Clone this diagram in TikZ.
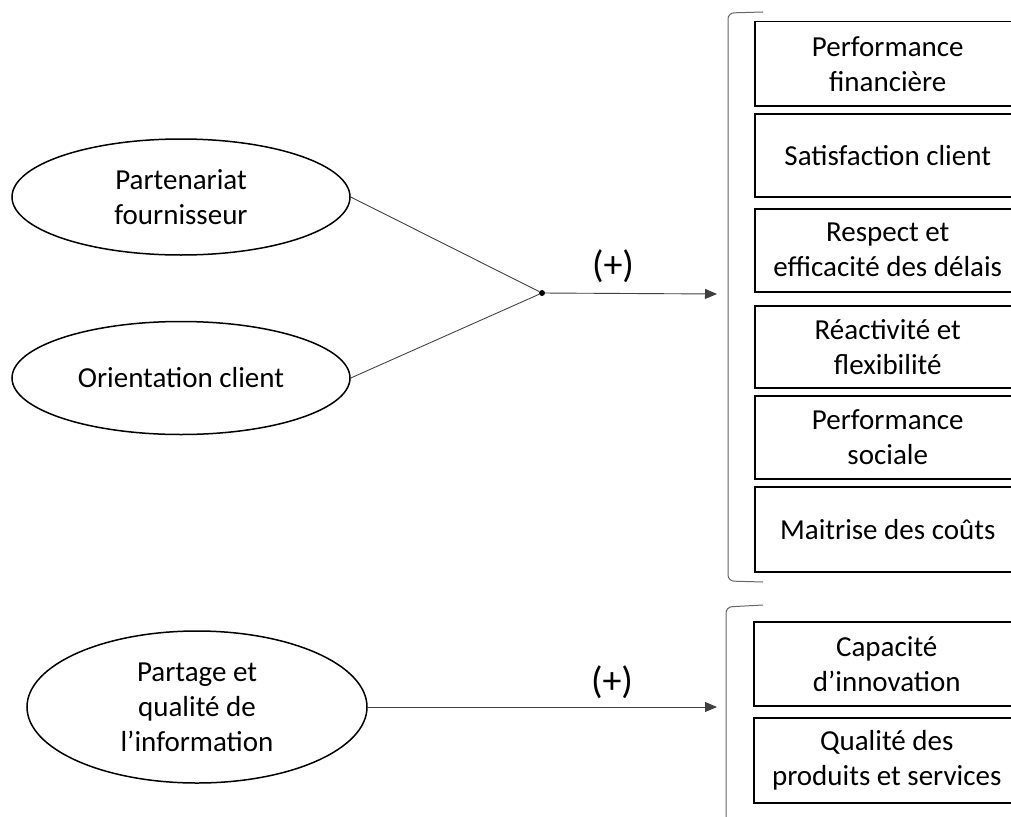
\documentclass[tikz,border=0pt]{standalone}
\usepackage{fontspec}
\setmainfont{Carlito}
\usetikzlibrary{arrows.meta,shapes.geometric}
\begin{document}
\begin{tikzpicture}[x=1pt,y=-1pt,
  every node/.style={font=\fontsize{29}{35}\selectfont},
  ell/.style={draw, line width=1.5pt, ellipse, inner sep=0pt, align=center, minimum width=338pt, minimum height=116pt},
  box/.style={draw, line width=1.5pt, rectangle, anchor=north west, inner sep=0pt, align=center, minimum width=266pt},
  conn/.style={draw=black!75, line width=0.9pt},
  arr/.style={conn, -{Triangle[length=12pt,width=10pt]}},
  sign/.style={font=\fontsize{38}{40}\selectfont},
  brk/.style={draw=black!60, line width=1pt, rounded corners=6pt}]
\useasboundingbox (0,0) rectangle (1011,816);
\clip (0,0) rectangle (1011,816);

% ellipses
\node[ell] (pf) at (181,197) {Partenariat\\fournisseur};
\node[ell, minimum height=113pt] (oc) at (181,378) {Orientation client};
\node[ell, minimum width=340pt, minimum height=152pt] (pq) at (197,707) {Partage et\\qualité de\\l’information};

% junction
\node[fill=black, circle, inner sep=0pt, minimum size=6pt] (dot) at (542,293) {};
\coordinate (t1) at (717,294);
\coordinate (t2) at (717,707);

\draw[conn] (pf.east) -- (dot);
\draw[conn] (oc.east) -- (dot);
\draw[arr] (dot) -- (t1);
\draw[arr] (pq.east) -- (t2);
\node[sign] (p1) at (613,266) {(+)};
\node[sign] (p2) at (612,682) {(+)};

% brackets
\draw[brk] (763,12) -- (728,13) -- (728,581) -- (763,582);
\draw[brk] (763,605) -- (726,607) -- (726,830);

% boxes
\node[box, minimum height=84pt] (b1) at (754,21) {Performance\\financière};
\node[box, minimum height=83pt] (b2) at (754,113) {Satisfaction client};
\node[box, minimum height=83pt] (b3) at (754,208) {Respect et\\efficacité des délais};
\node[box, minimum height=82pt] (b4) at (754,305) {Réactivité et\\flexibilité};
\node[box, minimum height=83pt] (b5) at (754,395) {Performance\\sociale};
\node[box, minimum height=85pt] (b6) at (754,486) {Maitrise des coûts};
\node[box, minimum height=84pt] (b7) at (753,621) {Capacité\\d’innovation};
\node[box, minimum height=85pt] (b8) at (753,717) {Qualité des\\produits et services};
\end{tikzpicture}
\end{document}
